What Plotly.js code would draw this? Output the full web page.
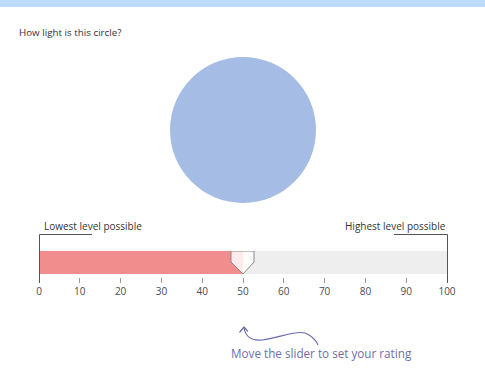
<!DOCTYPE html>
<html>
<head>
<meta charset="utf-8">
<script src="https://cdn.plot.ly/plotly-3.0.1.min.js"></script>
<style>html,body{margin:0;padding:0;background:#fff;}#chart{width:485px;height:377px;}</style>
</head>
<body>
<div id="chart"></div>
<script>
// Data
var question = "How light is this circle?";
var rating = [50];
var scaleMax = [100];
var tickValues = [0, 10, 20, 30, 40, 50, 60, 70, 80, 90, 100];
var tickLabels = ["0", "10", "20", "30", "40", "50", "60", "70", "80", "90", "100"];
var lowLabel = "Lowest level possible";
var highLabel = "Highest level possible";
var hint = "Move the slider to set your rating";

var W = 485, H = 377;
function px(x) { return x / W; }
function py(y) { return 1 - y / H; }

var traces = [
  { type: 'bar', orientation: 'h', x: scaleMax, y: [0], base: 0, width: 1,
    marker: { color: '#eeeeee' }, hoverinfo: 'skip', showlegend: false },
  { type: 'bar', orientation: 'h', x: rating, y: [0], base: 0, width: 1,
    marker: { color: '#f28d8d' }, hoverinfo: 'skip', showlegend: false }
];

var font = 'Open Sans, sans-serif';
var layout = {
  width: W, height: H,
  margin: { l: 0, r: 0, t: 0, b: 0 },
  paper_bgcolor: '#ffffff', plot_bgcolor: 'rgba(0,0,0,0)',
  barmode: 'overlay',
  showlegend: false,
  font: { family: font },
  title: { text: question, x: px(19), xanchor: 'left', xref: 'paper',
           y: py(33), yanchor: 'middle', yref: 'paper',
           font: { family: font, size: 9.8, color: '#333333' } },
  xaxis: {
    domain: [px(39), px(447)], range: [0, 100],
    anchor: 'free', position: py(277),
    tickmode: 'array', tickvals: tickValues, ticktext: tickLabels,
    ticks: 'outside', ticklen: 5, tickwidth: 1, tickcolor: '#999999',
    tickfont: { family: font, size: 10, color: '#454a55' },
    showgrid: false, zeroline: false, showline: false, fixedrange: true
  },
  yaxis: {
    domain: [py(274), py(251)], range: [-0.5, 0.5],
    showticklabels: false, showgrid: false, zeroline: false, showline: false,
    ticks: '', fixedrange: true
  },
  shapes: [
    // top banner
    { type: 'rect', xref: 'paper', yref: 'paper', x0: -0.1, x1: 1.1, y0: py(7), y1: 1.05,
      fillcolor: '#bcdcfe', line: { width: 0 }, layer: 'below' },
    // circle stimulus
    { type: 'circle', xref: 'paper', yref: 'paper',
      x0: px(170), x1: px(316), y0: py(203), y1: py(57),
      fillcolor: '#a5bce4', line: { width: 0 } },
    // left bracket
    { type: 'path', xref: 'paper', yref: 'paper',
      path: 'M' + px(39.5) + ',' + py(283) + ' L' + px(39.5) + ',' + py(234.5) + ' L' + px(92) + ',' + py(234.5),
      line: { color: '#555555', width: 1 } },
    // right bracket
    { type: 'path', xref: 'paper', yref: 'paper',
      path: 'M' + px(394) + ',' + py(234.5) + ' L' + px(447.5) + ',' + py(234.5) + ' L' + px(447.5) + ',' + py(283),
      line: { color: '#555555', width: 1 } },
    // slider handle anchored at the rating value
    { type: 'path', xref: 'x', yref: 'y', xsizemode: 'pixel', ysizemode: 'pixel',
      xanchor: rating[0], yanchor: -0.5,
      path: 'M0,0 L-12,12 L-12,23 L11,23 L11,12 Z',
      fillcolor: 'rgba(255,255,255,0.82)', line: { color: '#888888', width: 1 } },
    // curved hint arrow
    { type: 'path', xref: 'paper', yref: 'paper',
      path: 'M' + px(244) + ',' + py(328) +
            ' C' + px(246) + ',' + py(338) + ' ' + px(252) + ',' + py(341) + ' ' + px(262) + ',' + py(340) +
            ' C' + px(280) + ',' + py(338) + ' ' + px(295) + ',' + py(330) + ' ' + px(305) + ',' + py(333) +
            ' C' + px(312) + ',' + py(336) + ' ' + px(316) + ',' + py(340) + ' ' + px(318) + ',' + py(345),
      line: { color: '#6b6bb0', width: 1.2 } },
    { type: 'path', xref: 'paper', yref: 'paper',
      path: 'M' + px(239.5) + ',' + py(332.5) + ' L' + px(244) + ',' + py(327) + ' L' + px(248) + ',' + py(331.5),
      line: { color: '#6b6bb0', width: 1.2 } }
  ],
  annotations: [
    { text: lowLabel, xref: 'paper', yref: 'paper', x: px(42), y: py(226),
      xanchor: 'left', yanchor: 'middle', showarrow: false,
      font: { family: font, size: 10, color: '#333333' } },
    { text: highLabel, xref: 'paper', yref: 'paper', x: px(448), y: py(226),
      xanchor: 'right', yanchor: 'middle', showarrow: false,
      font: { family: font, size: 10, color: '#333333' } },
    { text: hint, xref: 'paper', yref: 'paper', x: px(321.5), y: py(353),
      xanchor: 'center', yanchor: 'middle', showarrow: false,
      font: { family: font, size: 11.7, color: '#6e6eae' } }
  ]
};

Plotly.newPlot('chart', traces, layout, { displayModeBar: false, staticPlot: true });
</script>
</body>
</html>
